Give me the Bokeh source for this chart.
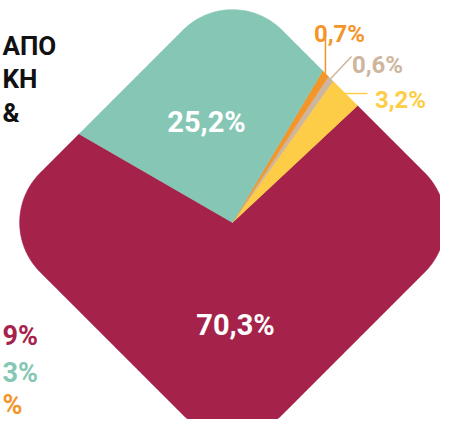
import numpy as np
from bokeh.plotting import figure
from bokeh.models import Range1d
from bokeh.embed import file_html
from bokeh.resources import INLINE
from bokeh.core.properties import value

# ---- data (counter-clockwise drawing order, starting at the maroon/teal edge) ----
shares = [70.3, 3.2, 0.6, 0.7, 25.2]
share_labels = ["70,3%", "3,2%", "0,6%", "0,7%", "25,2%"]
slice_colors = ["#A5234B", "#FECD47", "#CEB59D", "#F4952A", "#85C7B4"]
label_colors = ["#FFFFFF", "#FECD47", "#CEB59D", "#F4952A", "#FFFFFF"]

title_lines = ["ΑΠΟ", "ΚΗ", "&"]
side_texts = ["9%", "3%", "%"]
side_colors = ["#A5234B", "#85C7B4", "#F4952A"]

# ---- layout (picture pixels; y measured from top) ----
FW, FH = 440, 419
CX, CY = 232.0, 222.0            # pie centre
HALF_SIDE, CORNER = 171.0, 70.0  # rounded diamond
START_DEG = 150.0
FONT = value("Roboto")

def Y(ypx):
    return float(FH - ypx)

def inside(px, py):
    u = (px + py) / np.sqrt(2)
    v = (px - py) / np.sqrt(2)
    qx = abs(u) - (HALF_SIDE - CORNER)
    qy = abs(v) - (HALF_SIDE - CORNER)
    d = np.hypot(max(qx, 0), max(qy, 0)) + min(max(qx, qy), 0)
    return d <= CORNER

def boundary_r(theta):
    lo, hi = 0.0, 400.0
    dx, dy = np.cos(theta), np.sin(theta)
    for _ in range(40):
        mid = (lo + hi) / 2
        if inside(mid * dx, mid * dy):
            lo = mid
        else:
            hi = mid
    return lo

p = figure(width=FW, height=FH, output_backend="svg", toolbar_location=None,
           x_range=Range1d(0, FW), y_range=Range1d(0, FH),
           min_border=0, background_fill_color="white", border_fill_color="white",
           outline_line_color=None)
p.axis.visible = False
p.grid.visible = False

cy = Y(CY)
xs, ys, mids = [], [], []
a = np.deg2rad(START_DEG)
for s in shares:
    span = np.deg2rad(s / sum(shares) * 360.0)
    th = np.linspace(a, a + span, max(int(s * 6), 8))
    r = np.array([boundary_r(t) for t in th])
    xs.append([CX] + list(CX + r * np.cos(th)))
    ys.append([cy] + list(cy + r * np.sin(th)))
    mids.append(a + span / 2)
    a += span

p.patches(xs, ys, fill_color=slice_colors, line_color=slice_colors, line_width=0.6)

# leader lines for the small slices
leader_end = {1: (367, None), 2: (351, 56), 3: (None, 38)}
for i, (ex, ey) in leader_end.items():
    r0 = boundary_r(mids[i])
    sx, sy = CX + r0 * np.cos(mids[i]), cy + r0 * np.sin(mids[i])
    ex_ = sx if ex is None else ex
    ey_ = sy if ey is None else Y(ey)
    p.line([sx, ex_], [sy, ey_], line_color=slice_colors[i], line_width=1.5)

# percentage labels (x centre, baseline y)
label_pos = [(235, 324), (400, 99), (377, 64), (339, 33), (206, 121)]
label_size = ["29px", "24px", "24px", "24px", "29px"]
for lab, col, (lx, ly), fs in zip(share_labels, label_colors, label_pos, label_size):
    p.text(x=[lx], y=[Y(ly)], text=[lab], text_color=col,
           text_font=FONT, text_font_style="bold",
           text_font_size=fs, text_align="center", text_baseline="alphabetic")

# title fragment on the left
title_base = [45, 78, 112]
for t, ty in zip(title_lines, title_base):
    p.text(x=[2], y=[Y(ty)], text=[t], text_color="#111111",
           text_font=FONT, text_font_style="bold", text_font_size="26px",
           text_align="left", text_baseline="alphabetic")

side_base = [335, 372, 404]
for t, col, ty in zip(side_texts, side_colors, side_base):
    p.text(x=[2], y=[Y(ty)], text=[t], text_color=col,
           text_font=FONT, text_font_style="bold",
           text_font_size="27px", text_align="left", text_baseline="alphabetic")

open("out.html", "w").write(file_html(p, INLINE))
